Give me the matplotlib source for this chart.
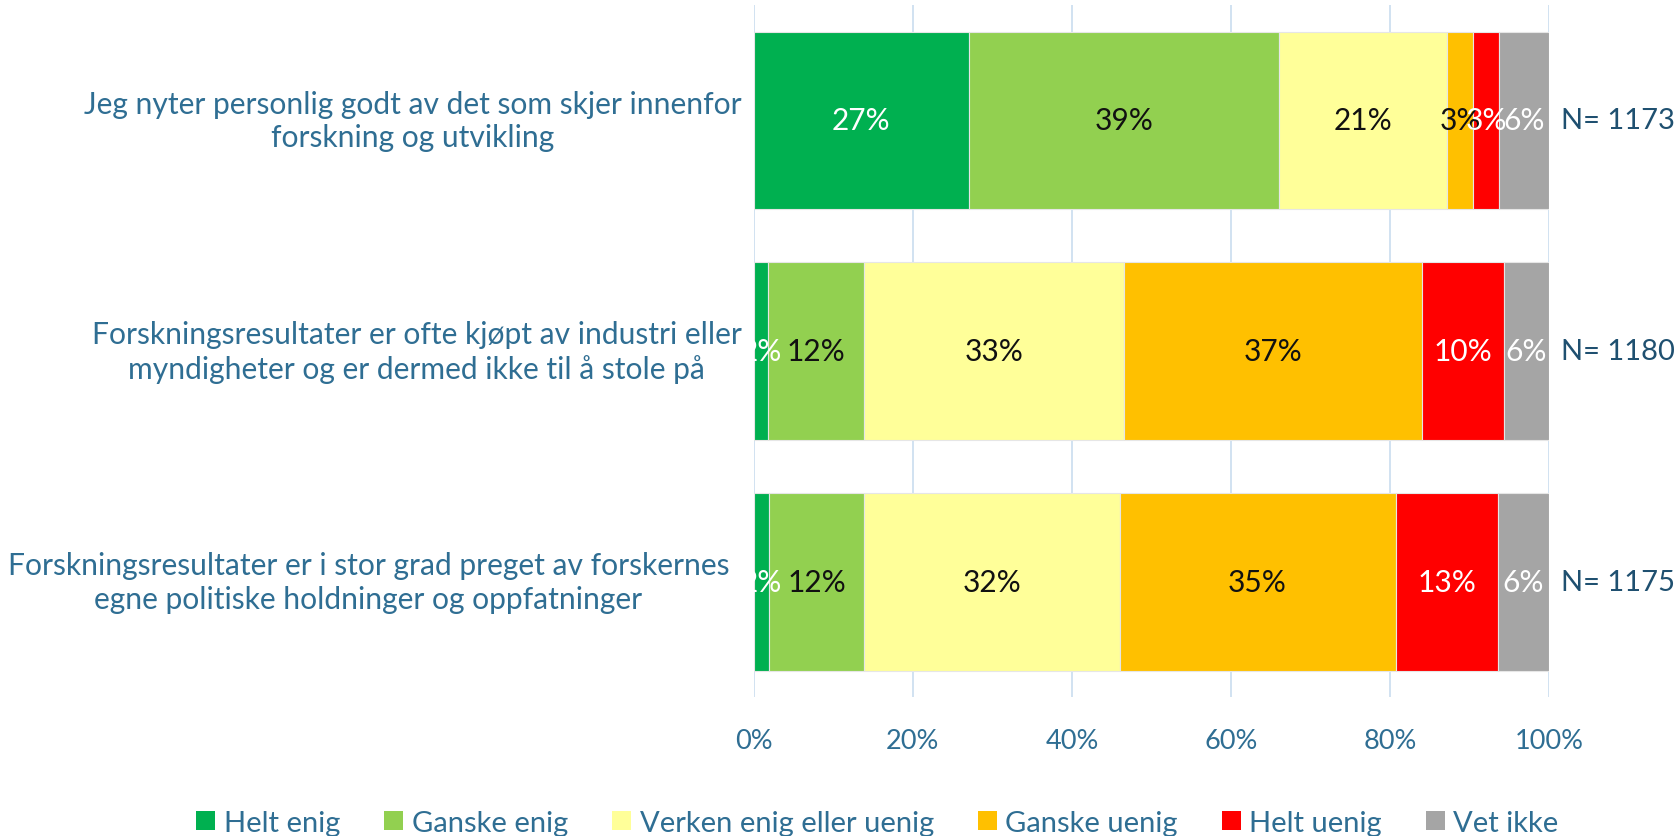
import matplotlib
matplotlib.use("Agg")
import matplotlib.pyplot as plt
from matplotlib.patches import Patch
from matplotlib.transforms import blended_transform_factory

# Data
sporsmal = [
    "Jeg nyter personlig godt av det som skjer innenfor\nforskning og utvikling",
    "Forskningsresultater er ofte kjøpt av industri eller\nmyndigheter og er dermed ikke til å stole på",
    "Forskningsresultater er i stor grad preget av forskernes\negne politiske holdninger og oppfatninger",
]
kategorier = ["Helt enig", "Ganske enig", "Verken enig eller uenig", "Ganske uenig", "Helt uenig", "Vet ikke"]
helt_enig = [27.0, 1.8, 1.9]
ganske_enig = [39.0, 12.0, 12.0]
verken = [21.2, 32.8, 32.1]
ganske_uenig = [3.3, 37.4, 34.7]
helt_uenig = [3.2, 10.3, 12.9]
vet_ikke = [6.3, 5.7, 6.4]
n_svar = [1173, 1180, 1175]

serier = [helt_enig, ganske_enig, verken, ganske_uenig, helt_uenig, vet_ikke]
farger = ["#00B050", "#92D050", "#FFFF99", "#FFC000", "#FF0000", "#A5A5A5"]
tekstfarger = ["white", "#111111", "#111111", "#111111", "white", "white"]
blaa = "#2F6E93"
moerkblaa = "#1F5070"

# sentrum for kategoritekstene (aksefraksjon), som i Excel
tekst_x = [-0.429, -0.424, -0.485]

plt.rcParams['font.family'] = ['Lato', 'DejaVu Sans']

fig = plt.figure(figsize=(16.78, 8.37), dpi=100)
ax = fig.add_axes([0.4493, 0.1655, 0.4738, 0.8273])

y = list(range(len(sporsmal)))
venstre = [0.0] * len(sporsmal)
for verdier, farge, tf, navn in zip(serier, farger, tekstfarger, kategorier):
    ax.barh(y, verdier, left=venstre, height=0.77, color=farge, edgecolor="#E6E6E6",
            linewidth=0.8, label=navn, zorder=3)
    for i, v in enumerate(verdier):
        ax.text(venstre[i] + v / 2, y[i], f"{round(v):.0f}%", ha="center", va="center",
                color=tf, fontsize=21.5, zorder=4)
    venstre = [a + b for a, b in zip(venstre, verdier)]

for i, n in enumerate(n_svar):
    ax.text(101.5, y[i], f"N= {n}", ha="left", va="center", color=moerkblaa, fontsize=21)

trans = blended_transform_factory(ax.transAxes, ax.transData)
for i, tekst in enumerate(sporsmal):
    ax.text(tekst_x[i], y[i], tekst, transform=trans, ha="center", va="center",
            multialignment="center", color=blaa, fontsize=21.6, linespacing=1.25)

ax.set_xlim(0, 100)
ax.set_ylim(len(sporsmal) - 0.5, -0.5)
ax.set_xticks([0, 20, 40, 60, 80, 100])
ax.set_xticklabels([f"{t}%" for t in [0, 20, 40, 60, 80, 100]], color=blaa, fontsize=19.5)
ax.set_yticks([])
ax.tick_params(axis="both", length=0)
ax.tick_params(axis="x", pad=22)
ax.grid(axis="x", color="#C9DDEF", linewidth=1.2, zorder=0)
for s in ax.spines.values():
    s.set_visible(False)

handles = [Patch(facecolor=f, edgecolor="none", label=k) for f, k in zip(farger, kategorier)]
leg = fig.legend(handles=handles, loc="center", bbox_to_anchor=(0.523, 0.016), ncol=6,
                 frameon=False, fontsize=21, handlelength=0.65, handleheight=0.65,
                 handletextpad=0.3, columnspacing=1.5)
for t in leg.get_texts():
    t.set_color(blaa)

fig.savefig("out.png", dpi=100)
